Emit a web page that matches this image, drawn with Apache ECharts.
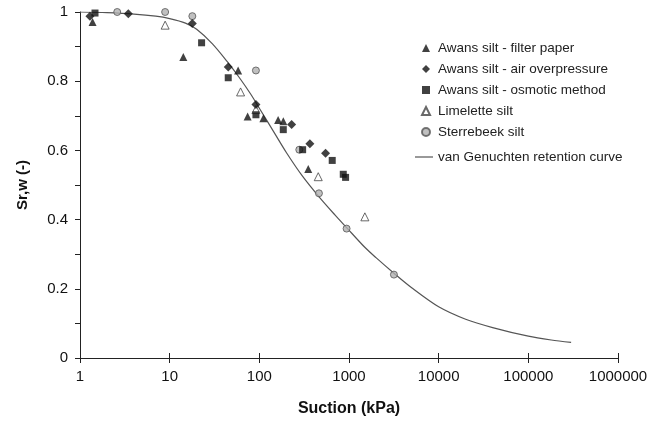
<!DOCTYPE html>
<html>
<head>
<meta charset="utf-8">
<script src="https://cdn.jsdelivr.net/npm/echarts@6/dist/echarts.min.js"></script>
<style>html,body{margin:0;padding:0;background:#fff}#c{width:651px;height:422px}</style>
</head>
<body>
<div id="c"></div>
<script>
const xTickLabels = ['1','10','100','1000','10000','100000','1000000'];

const filterPaperSuction = [1.38, 14.2, 58, 74, 111, 162, 185, 351];
const filterPaperSr      = [0.971, 0.870, 0.831, 0.698, 0.693, 0.688, 0.684, 0.546];

const airOverpressureSuction = [1.29, 3.46, 17.9, 45, 91.6, 229, 366, 548];
const airOverpressureSr      = [0.988, 0.995, 0.967, 0.841, 0.733, 0.675, 0.619, 0.592];

const osmoticSuction = [1.47, 22.7, 45, 91.6, 185, 304, 650, 863, 916];
const osmoticSr      = [0.997, 0.911, 0.810, 0.703, 0.660, 0.602, 0.571, 0.531, 0.522];

const limeletteSuction = [8.9, 61.8, 91.6, 454, 1503];
const limeletteSr      = [0.962, 0.769, 0.718, 0.524, 0.408];

const sterrebeekSuction = [2.6, 8.9, 17.9, 91.6, 279, 462, 940, 3170];
const sterrebeekSr      = [1.0, 1.0, 0.988, 0.831, 0.602, 0.476, 0.374, 0.241];

const curveSuction = [1, 2, 4, 7, 10, 15, 20, 30, 45, 60, 80, 100, 150, 200, 300, 466, 700, 940, 1500, 2000, 3170, 5000, 10000, 20000, 40000, 100000, 180000, 300000];
const curveSr      = [1.000, 0.998, 0.994, 0.988, 0.981, 0.968, 0.950, 0.908, 0.853, 0.810, 0.763, 0.722, 0.647, 0.594, 0.527, 0.465, 0.413, 0.377, 0.320, 0.290, 0.245, 0.203, 0.148, 0.112, 0.088, 0.063, 0.052, 0.045];

const zip = (a, b) => a.map((v, i) => [v, b[i]]);
const FONT = 'Liberation Sans, Arial, sans-serif';
const AX = '#222';

const chart = echarts.init(document.getElementById('c'), null, {renderer: 'canvas'});
chart.setOption({
  animation: false,
  backgroundColor: '#fff',
  textStyle: {fontFamily: FONT},
  grid: {left: 80, right: 33, top: 12, bottom: 59, containLabel: false},
  legend: [{
    orient: 'vertical', left: 416, top: 35,
    itemWidth: 8, itemHeight: 8, itemGap: 5,
    textStyle: {fontFamily: FONT, fontSize: 13.5, color: '#222', lineHeight: 16, padding: [0, 0, 0, 3]},
    data: ['Awans silt - filter paper', 'Awans silt - air overpressure', 'Awans silt - osmotic method', 'Limelette silt', 'Sterrebeek silt']
  }, {
    orient: 'vertical', left: 410, top: 145,
    itemWidth: 18, itemHeight: 14,
    icon: 'path://M0,0L18,0L18,1.2L0,1.2Z',
    textStyle: {fontFamily: FONT, fontSize: 13.5, color: '#222'},
    data: ['van Genuchten retention curve']
  }],
  xAxis: [{
    type: 'log', logBase: 10, min: 1, max: 1000000, splitNumber: 6,
    name: 'Suction (kPa)', nameLocation: 'middle', nameGap: 43,
    nameTextStyle: {fontFamily: FONT, fontSize: 16, fontWeight: 'bold', color: '#111'},
    axisLine: {lineStyle: {color: AX, width: 1}},
    axisTick: {show: true, length: 5, lineStyle: {color: AX}},
    axisLabel: {fontFamily: FONT, fontSize: 15, color: '#111', margin: 11, showMinLabel: true, showMaxLabel: true,
      formatter: v => xTickLabels[Math.round(Math.log10(v))]},
    splitLine: {show: false}
  }, {
    type: 'log', logBase: 10, min: 1, max: 1000000, splitNumber: 6, position: 'bottom',
    axisLine: {show: false},
    axisTick: {show: true, inside: true, length: 5, lineStyle: {color: AX}},
    axisLabel: {show: false},
    splitLine: {show: false}
  }],
  yAxis: {
    type: 'value', min: 0, max: 1, interval: 0.2,
    name: 'Sr,w (-)', nameLocation: 'middle', nameGap: 50, nameRotate: 90,
    nameTextStyle: {fontFamily: FONT, fontSize: 15, fontWeight: 'bold', color: '#111'},
    axisLine: {show: true, lineStyle: {color: AX, width: 1}},
    axisTick: {show: true, length: 5, lineStyle: {color: AX}},
    minorTick: {show: true, splitNumber: 2, length: 5, lineStyle: {color: AX}},
    axisLabel: {fontFamily: FONT, fontSize: 15, color: '#111', margin: 12},
    splitLine: {show: false}
  },
  series: [{
    name: 'van Genuchten retention curve', type: 'line', smooth: 0.3,
    showSymbol: false, symbol: 'none', z: 1,
    lineStyle: {color: '#555', width: 1.2}, itemStyle: {color: '#555'},
    data: zip(curveSuction, curveSr)
  }, {
    name: 'Awans silt - filter paper', type: 'scatter', symbol: 'triangle', symbolSize: 8, z: 3,
    itemStyle: {color: '#111'}, data: zip(filterPaperSuction, filterPaperSr)
  }, {
    name: 'Awans silt - air overpressure', type: 'scatter', symbol: 'diamond', symbolSize: 9, z: 3,
    itemStyle: {color: '#111'}, data: zip(airOverpressureSuction, airOverpressureSr)
  }, {
    name: 'Awans silt - osmotic method', type: 'scatter', symbol: 'rect', symbolSize: 7, z: 3,
    itemStyle: {color: '#111'}, data: zip(osmoticSuction, osmoticSr)
  }, {
    name: 'Limelette silt', type: 'scatter', symbol: 'triangle', symbolSize: 8, z: 2,
    itemStyle: {color: '#fff', borderColor: '#444', borderWidth: 1}, data: zip(limeletteSuction, limeletteSr)
  }, {
    name: 'Sterrebeek silt', type: 'scatter', symbol: 'circle', symbolSize: 7, z: 2,
    itemStyle: {color: '#b0b0b0', borderColor: '#555', borderWidth: 1}, data: zip(sterrebeekSuction, sterrebeekSr)
  }]
});
</script>
</body>
</html>
